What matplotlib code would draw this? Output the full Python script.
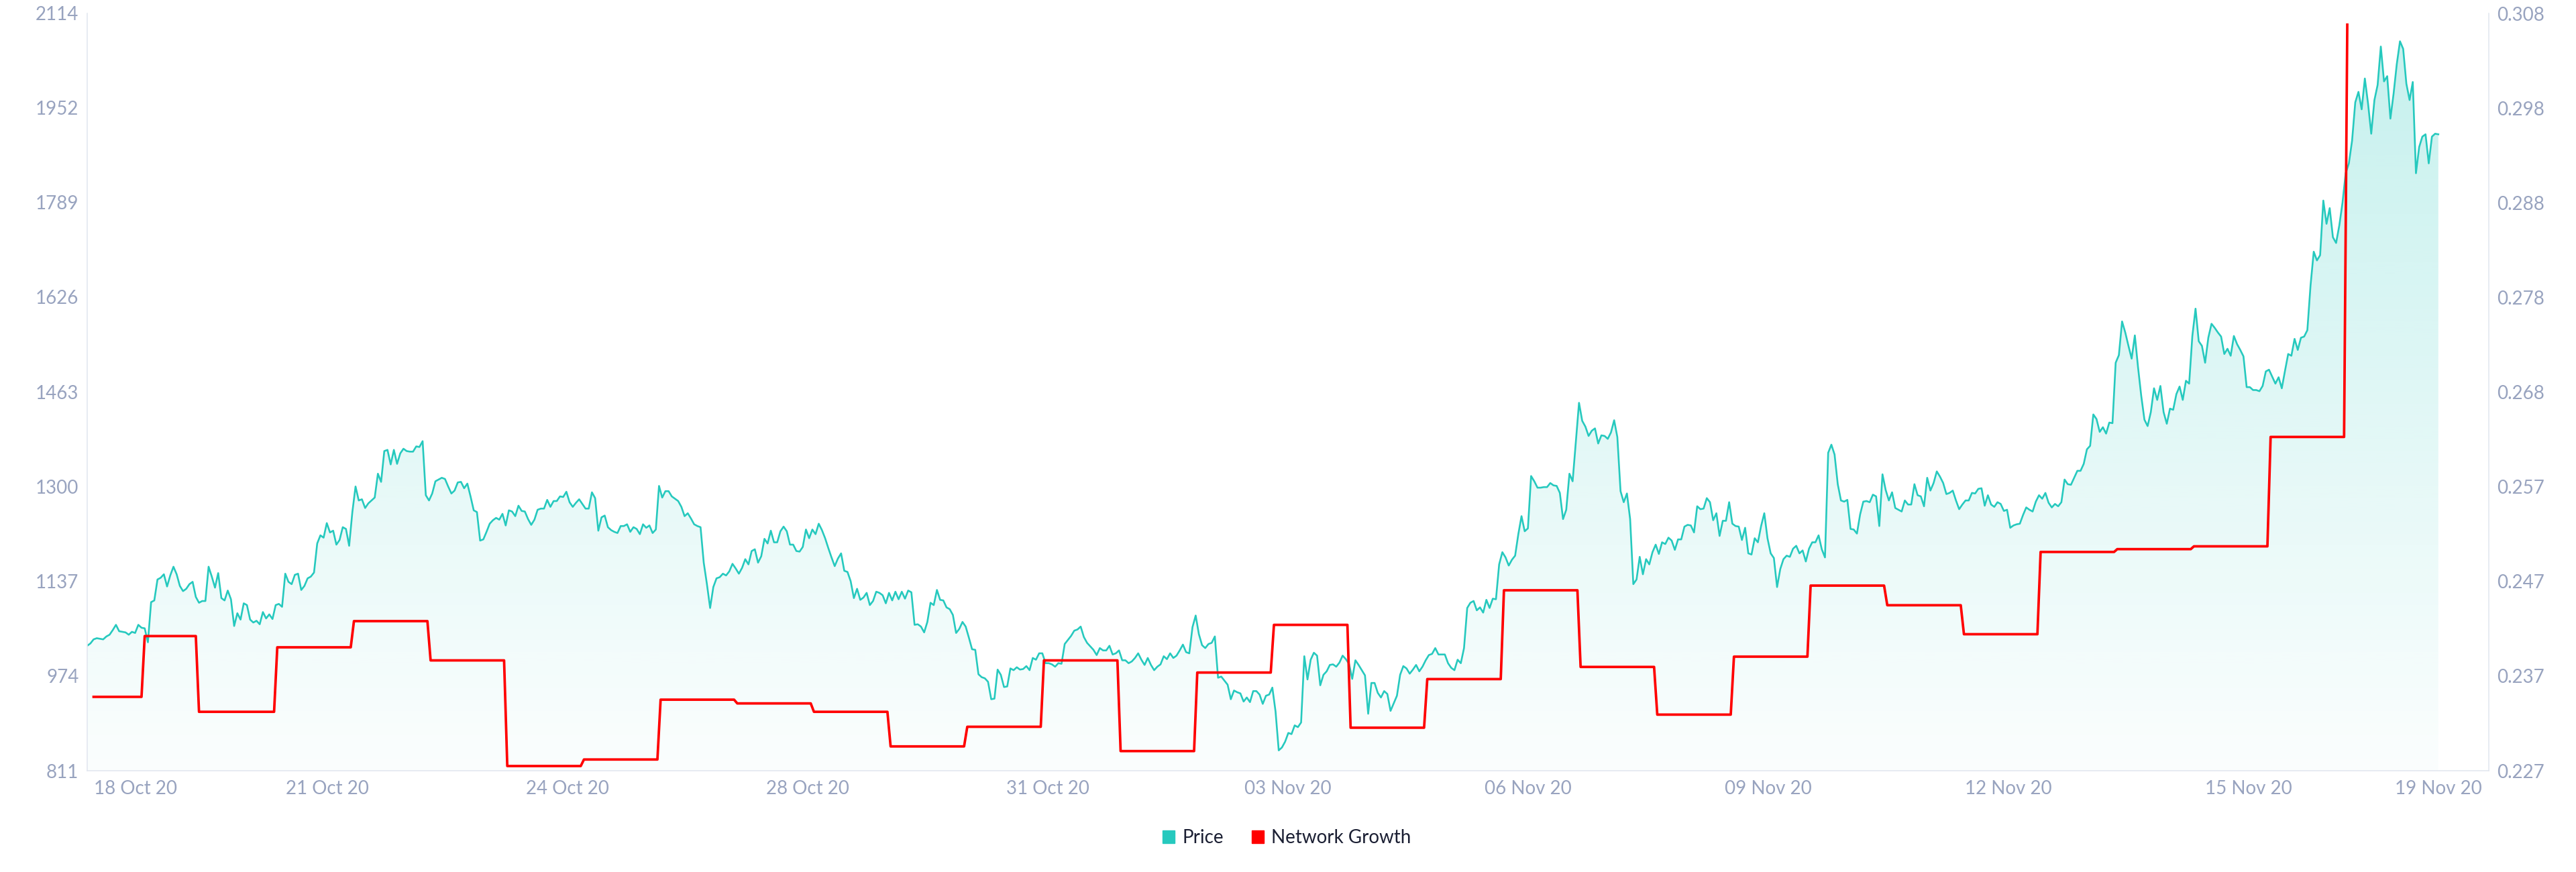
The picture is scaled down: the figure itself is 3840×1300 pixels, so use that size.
import numpy as np
import matplotlib
matplotlib.use("Agg")
import matplotlib.pyplot as plt
from matplotlib.colors import to_rgb
from matplotlib.patches import Patch
from matplotlib.transforms import ScaledTranslation

# hourly price, hour 0 = left edge of the chart (18 Oct 20, afternoon)
price = [
    1026, 1030, 1037, 1039, 1038, 1037, 1042, 1045, 1053, 1062,
    1051, 1050, 1049, 1045, 1050, 1048, 1062, 1057, 1056, 1032,
    1101, 1104, 1140, 1143, 1149, 1128, 1147, 1162, 1149, 1129,
    1120, 1124, 1132, 1136, 1110, 1100, 1103, 1103, 1162, 1145,
    1126, 1151, 1108, 1104, 1121, 1106, 1060, 1082, 1071, 1099,
    1096, 1071, 1066, 1069, 1063, 1084, 1073, 1080, 1072, 1096,
    1098, 1093, 1150, 1136, 1132, 1148, 1150, 1122, 1129, 1142,
    1145, 1152, 1202, 1216, 1212, 1237, 1221, 1224, 1200, 1208,
    1230, 1227, 1198, 1256, 1300, 1276, 1278, 1263, 1271, 1276,
    1281, 1322, 1308, 1361, 1363, 1338, 1363, 1339, 1357, 1365,
    1361, 1360, 1360, 1369, 1368, 1378, 1285, 1276, 1288, 1309,
    1312, 1315, 1313, 1300, 1288, 1293, 1307, 1308, 1297, 1305,
    1283, 1259, 1256, 1207, 1209, 1222, 1236, 1242, 1246, 1243,
    1253, 1233, 1259, 1257, 1249, 1267, 1258, 1257, 1244, 1234,
    1243, 1260, 1262, 1262, 1277, 1265, 1275, 1275, 1283, 1282,
    1291, 1273, 1265, 1272, 1278, 1270, 1262, 1262, 1290, 1280,
    1224, 1247, 1250, 1230, 1225, 1222, 1220, 1232, 1232, 1235,
    1222, 1230, 1227, 1218, 1235, 1229, 1233, 1220, 1226, 1301,
    1281, 1292, 1292, 1283, 1279, 1275, 1265, 1249, 1254, 1245,
    1235, 1232, 1230, 1169, 1132, 1091, 1127, 1142, 1144, 1150,
    1147, 1154, 1167, 1159, 1150, 1160, 1175, 1166, 1189, 1192,
    1169, 1180, 1210, 1202, 1224, 1204, 1204, 1223, 1231, 1223,
    1200, 1200, 1189, 1188, 1196, 1226, 1211, 1226, 1218, 1236,
    1225, 1211, 1194, 1178, 1163, 1176, 1185, 1155, 1153, 1137,
    1108, 1124, 1105, 1109, 1117, 1096, 1103, 1119, 1117, 1113,
    1099, 1117, 1104, 1119, 1106, 1119, 1107,
    1121, 1118, 1062, 1063, 1059, 1049, 1067, 1100, 1096, 1122,
    1105, 1104, 1092, 1089, 1079, 1048, 1055, 1067, 1059, 1040,
    1020, 1019, 977, 972, 970, 964, 934, 935, 985, 976,
    955, 956, 987, 984, 989, 985, 986, 991, 984, 1005,
    1002, 1013, 1013, 996, 996, 994, 990, 996, 995, 1029,
    1036, 1043, 1052, 1054, 1059, 1041, 1031, 1025, 1019, 1010,
    1022, 1018, 1018, 1026, 1011, 1013, 1018, 1001, 1001, 996,
    999, 1005, 1013, 1002, 993, 1005, 993, 984, 990, 994,
    1008, 1003, 1013, 1005, 1009, 1018, 1028, 1015, 1013, 1058,
    1078, 1046, 1027, 1022, 1029, 1031, 1042, 971, 973, 966,
    959, 934, 949, 946, 944, 930, 937, 929, 948, 948,
    942, 926, 940, 942, 954, 913, 846, 851, 861, 876,
    874, 889, 886, 894, 1008, 968,
    1002, 1014, 1009, 958, 976, 982, 993, 994, 990, 997,
    1009, 1003, 995, 969, 1001, 993, 984, 975, 909, 962,
    962, 945, 937, 948, 943, 914, 927, 940, 976, 991,
    987, 978, 985, 993, 982, 990, 1001, 1010, 1012, 1022,
    1011, 1011, 1011, 996, 988, 984, 1002, 996, 1022, 1091,
    1100, 1103, 1087, 1092, 1083, 1105, 1091, 1107, 1106, 1166,
    1187, 1178, 1164, 1174, 1181, 1218, 1249, 1223, 1228, 1318,
    1309, 1298, 1298, 1299, 1299, 1306, 1302, 1301, 1289, 1244,
    1260, 1322, 1309, 1377, 1444, 1413, 1403, 1387, 1396, 1400,
    1374, 1388, 1387, 1382, 1393, 1414, 1385, 1292, 1273, 1288,
    1244, 1132, 1140, 1179, 1149, 1175, 1166, 1187, 1200, 1184,
    1204, 1201, 1212, 1207, 1191, 1209, 1209, 1231, 1234, 1233,
    1221, 1266, 1261, 1262, 1280, 1273,
    1242, 1254, 1215, 1241, 1241, 1273, 1236, 1232, 1231, 1208,
    1229, 1185, 1183, 1211, 1204, 1232, 1254, 1211, 1185, 1177,
    1127, 1158, 1175, 1181, 1179, 1193, 1198, 1185, 1190, 1171,
    1193, 1204, 1204, 1216, 1192, 1178, 1358, 1372, 1355, 1304,
    1276, 1274, 1277, 1227, 1226, 1219, 1252, 1274, 1275, 1273,
    1286, 1283, 1232, 1321, 1294, 1276, 1290, 1263, 1260, 1257,
    1276, 1269, 1269, 1304, 1285, 1283, 1266, 1315, 1293, 1306,
    1326, 1317, 1306, 1287, 1289, 1293, 1276, 1261, 1269, 1276,
    1276, 1289, 1288, 1296, 1297, 1267, 1285, 1269, 1265, 1273,
    1270, 1258, 1260, 1229, 1233, 1235, 1236, 1251, 1264, 1260,
    1257, 1274, 1285, 1279, 1289, 1272, 1264, 1270, 1266, 1273,
    1312, 1304, 1303, 1315, 1327, 1327, 1339, 1364, 1370, 1424,
    1416, 1394, 1402, 1391, 1410,
    1409, 1513, 1526, 1584, 1565, 1542, 1520, 1560, 1505, 1456,
    1415, 1404, 1428, 1469, 1449, 1473, 1428, 1408, 1434, 1432,
    1459, 1472, 1449, 1482, 1477, 1559, 1606, 1550, 1542, 1513,
    1556, 1580, 1573, 1565, 1558, 1528, 1537, 1525, 1559, 1545,
    1535, 1524, 1471, 1471, 1466, 1466, 1464, 1473, 1498, 1501,
    1489, 1477, 1488, 1469, 1499, 1528, 1525, 1554, 1535, 1556,
    1558, 1569, 1646, 1704, 1689, 1698, 1792, 1752, 1779, 1729,
    1719, 1749, 1788, 1839, 1856, 1895, 1961, 1979, 1949, 2002,
    1959, 1907, 1965, 1991, 2057, 1997, 2006, 1933, 1976, 2027,
    2066, 2053, 1993, 1965, 1996, 1839, 1884, 1902, 1906, 1856,
    1902, 1907, 1906,
]

# network growth: daily level and the hour each level starts
ng_start_h = [2, 18, 35, 59.5, 83.5, 107.5, 131.5, 155.5, 179.5, 203.5,
              227.5, 251.5, 275.5, 299.5, 323.5, 347.5, 371.5, 395.5, 419.5, 443.5,
              467.5, 491.5, 515.5, 539.5, 563.5, 587.5, 611.5, 635.5, 659.5, 683.5,
              707.5]
ng_value = [0.2349, 0.2414, 0.2333, 0.2402, 0.2430, 0.2388, 0.2275, 0.2282, 0.2346, 0.2342,
            0.2333, 0.2296, 0.2317, 0.2388, 0.2291, 0.2375, 0.2426, 0.2316, 0.2368, 0.2463,
            0.2381, 0.2330, 0.2392, 0.2468, 0.2447, 0.2416, 0.2504, 0.2507, 0.2510, 0.2627,
            0.3068]

x_labels = ["18 Oct 20", "21 Oct 20", "24 Oct 20", "28 Oct 20", "31 Oct 20", "03 Nov 20",
            "06 Nov 20", "09 Nov 20", "12 Nov 20", "15 Nov 20", "19 Nov 20"]
price_ticks = [811, 974, 1137, 1300, 1463, 1626, 1789, 1952, 2114]
ng_ticks = ["0.227", "0.237", "0.247", "0.257", "0.268", "0.278", "0.288", "0.298", "0.308"]
ng_range = (0.227, 0.308)
span_h = 751.8

teal = "#26C9BE"
red = "#FF0000"
tick_col = "#98A3BF"
spine_col = "#E3E7F0"

plt.rcParams["font.family"] = ["Lato", "DejaVu Sans"]

fig = plt.figure(figsize=(38.4, 13), dpi=100)
ax = fig.add_axes([130 / 3840, 1 - 1149 / 1300, 3580 / 3840, 1129 / 1300])

hours = np.arange(len(price))
fill = ax.fill_between(hours, price, price_ticks[0], color="none", lw=0)
grad = np.zeros((256, 1, 4))
grad[..., :3] = to_rgb(teal)
grad[:, 0, 3] = np.linspace(0.27, 0.02, 256)
img = ax.imshow(grad, extent=[0, span_h, price_ticks[0], price_ticks[-1]],
                aspect="auto", origin="upper", zorder=1, interpolation="bilinear")
img.set_clip_path(fill.get_paths()[0], ax.transData)
ax.plot(hours, price, color=teal, lw=1.9, zorder=2)

ax.set_xlim(0, span_h)
ax.set_ylim(price_ticks[0], price_ticks[-1])
ax.set_yticks(price_ticks)
ax.set_xticks(np.linspace(0, span_h, len(x_labels)))
ax.set_xticklabels(x_labels)

# network growth on the right axis
ng_x, ng_y = [ng_start_h[0]], [ng_value[0]]
for i in range(1, len(ng_start_h)):
    ng_x += [ng_start_h[i] - 1, ng_start_h[i]]
    ng_y += [ng_value[i - 1], ng_value[i]]

ax2 = ax.twinx()
ax2.plot(ng_x, ng_y, color=red, lw=2.7, zorder=3)
ax2.set_ylim(*ng_range)
ax2.set_yticks(np.linspace(ng_range[0], ng_range[1], len(ng_ticks)))
ax2.set_yticklabels(ng_ticks)
ax2.set_xlim(0, span_h)

for s in ax.spines.values():
    s.set_color(spine_col)
    s.set_linewidth(1.2)
ax.spines["top"].set_visible(False)
for s in ax2.spines.values():
    s.set_visible(False)

ax.tick_params(axis="both", length=0, labelsize=20, labelcolor=tick_col)
ax.tick_params(axis="y", pad=9)
ax.tick_params(axis="x", pad=10)
ax2.tick_params(axis="y", length=0, labelsize=20, labelcolor=tick_col, pad=9)

xl = ax.get_xticklabels()
xl[0].set_ha("left")
xl[0].set_transform(xl[0].get_transform() + ScaledTranslation(0.1, 0, fig.dpi_scale_trans))
xl[-1].set_ha("right")
xl[-1].set_transform(xl[-1].get_transform() + ScaledTranslation(-0.1, 0, fig.dpi_scale_trans))

handles = [Patch(color=teal, label="Price"), Patch(color=red, label="Network Growth")]
fig.legend(handles=handles, loc="center", bbox_to_anchor=(0.4995, 1 - 1249 / 1300), ncol=2,
           frameon=False, fontsize=20, handlelength=0.65, handleheight=0.65,
           handletextpad=0.4, columnspacing=1.5, labelcolor="#1B1F33")

fig.savefig("out.png", dpi=100, facecolor="white")
